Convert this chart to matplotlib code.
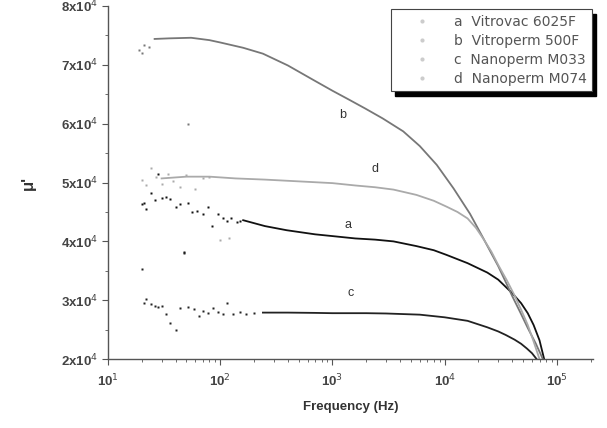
import matplotlib.pyplot as plt
from matplotlib.patches import Rectangle
from matplotlib.ticker import FixedLocator, NullFormatter

plt.rcParams['font.family'] = ['Liberation Sans', 'DejaVu Sans']

# smooth parts of the curves (frequency in Hz, mu')
f_a = [160, 250, 390, 700, 1000, 1600, 2400, 3500, 5600, 8000, 10400, 16000, 24000, 30000, 40000, 48000, 55000, 62000, 70000, 77000]
mu_a = [43600, 42600, 41900, 41200, 40900, 40500, 40300, 40000, 39200, 38500, 37700, 36300, 34700, 33500, 31200, 29500, 27800, 25800, 23200, 20000]

f_b = [26, 35, 55, 80, 100, 160, 240, 400, 680, 1000, 1400, 1950, 2800, 4270, 6000, 8500, 12000, 16800, 22000, 26000, 30000, 35000, 40000, 47000, 55000, 65000, 75000]
mu_b = [74400, 74500, 74600, 74200, 73800, 72900, 71900, 69900, 67400, 65600, 64100, 62600, 60900, 58700, 56200, 53000, 49000, 44700, 40600, 38000, 35800, 33100, 30700, 28000, 25300, 22600, 20000]

f_c = [240, 400, 700, 1000, 2000, 3000, 6000, 10000, 16000, 24000, 30000, 35000, 42000, 48000, 54000, 60000, 66000]
mu_c = [27900, 27900, 27850, 27800, 27800, 27750, 27550, 27100, 26500, 25400, 24700, 24100, 23300, 22600, 21800, 21000, 20000]

f_d = [30, 50, 80, 137, 250, 500, 1000, 1600, 2400, 3500, 5600, 8000, 10400, 13000, 16000, 19000, 22000, 26000, 30000, 36000, 42000, 48000, 55000, 62000, 70000]
mu_d = [50700, 51000, 51000, 50700, 50500, 50200, 49900, 49500, 49200, 48800, 47900, 46900, 45900, 45000, 43900, 42300, 40500, 38300, 36000, 33300, 30800, 28400, 25800, 23000, 20000]

# noisy low-frequency points
fa_n = [20, 21, 22, 24, 26, 28, 30, 33, 36, 40, 44, 48, 52, 56, 62, 70, 78, 85, 95, 105, 115, 125, 140, 150]
mua_n = [46400, 46600, 45500, 48200, 47000, 51500, 47300, 47500, 47200, 45900, 46400, 38200, 46500, 45000, 45200, 44600, 45900, 42700, 44600, 44000, 43500, 43900, 43300, 43500]

fb_n = [19, 20, 21, 23, 52]
mub_n = [72500, 72000, 73400, 73100, 60000]

fc_n = [20, 21, 22, 24, 26, 28, 30, 33, 36, 40, 44, 48, 52, 58, 64, 70, 78, 86, 95, 105, 115, 130, 150, 170, 200]
muc_n = [35300, 29500, 30200, 29400, 29000, 28900, 29100, 27600, 26200, 24900, 28700, 38000, 28900, 28500, 27400, 28200, 27800, 28700, 28000, 27600, 29600, 27600, 28000, 27700, 27800]

fd_n = [20, 22, 24, 27, 30, 34, 38, 44, 50, 60, 70, 80, 100, 120]
mud_n = [50400, 49500, 52400, 51000, 49800, 51500, 50200, 49300, 51300, 48900, 50800, 50900, 40200, 40500]

labels = ['a  Vitrovac 6025F', 'b  Vitroperm 500F', 'c  Nanoperm M033', 'd  Nanoperm M074']
colors = ['#111111', '#777777', '#222222', '#aaaaaa']

fig = plt.figure(figsize=(6.07, 4.28), dpi=100)
ax = fig.add_axes([0.178, 0.161, 0.799, 0.825])

series = [(f_a, mu_a, fa_n, mua_n), (f_b, mu_b, fb_n, mub_n),
          (f_c, mu_c, fc_n, muc_n), (f_d, mu_d, fd_n, mud_n)]
for (fs, ms, fn, mn), lab, col in zip(series, labels, colors):
    ax.plot(fs, ms, color=col, lw=1.3)
    ax.plot(fn, mn, ls='none', marker='s', ms=1.8, color=col, mec='none')
    ax.plot([], [], ls='none', marker='o', ms=3, color='#cccccc', mec='none', label=lab)

ax.text(1150, 61000, 'b', fontsize=9, color='#333333')
ax.text(2240, 51800, 'd', fontsize=9, color='#333333')
ax.text(1290, 42300, 'a', fontsize=9, color='#333333')
ax.text(1370, 30800, 'c', fontsize=9, color='#333333')

ax.set_xscale('log')
ax.set_xlim(10, 2.1e5)
ax.set_ylim(20000, 80000)

ax.spines['top'].set_visible(False)
ax.spines['right'].set_visible(False)
for s in ['left', 'bottom']:
    ax.spines[s].set_color('#555555')
    ax.spines[s].set_linewidth(1.0)

ax.set_xticks([1e1, 1e2, 1e3, 1e4, 1e5])
ax.set_xticklabels(['10$^1$', '10$^2$', '10$^3$', '10$^4$', '10$^5$'])
ax.set_yticks([20000, 30000, 40000, 50000, 60000, 70000, 80000])
ax.set_yticklabels(['%dx10$^4$' % k for k in range(2, 9)])
ax.yaxis.set_minor_locator(FixedLocator([25000, 35000, 45000, 55000, 65000, 75000]))
ax.yaxis.set_minor_formatter(NullFormatter())
ax.tick_params(axis='both', which='major', direction='out', length=4, color='#555555',
               labelsize=9.5, labelcolor='#444444')
ax.tick_params(axis='x', which='major', pad=6)
ax.tick_params(axis='both', which='minor', direction='out', length=2.5, color='#555555')
for t in ax.get_xticklabels() + ax.get_yticklabels():
    t.set_fontweight('bold')

ax.set_xlabel('Frequency (Hz)', fontsize=9.5, fontweight='bold', color='#333333', labelpad=8)
ax.set_ylabel("μ'", fontsize=12, fontweight='bold', color='#333333', labelpad=18)

leg = ax.legend(loc='upper right', bbox_to_anchor=(592 / 607, 1 - 9 / 428), bbox_transform=fig.transFigure,
                frameon=True, fancybox=False, framealpha=1, edgecolor='#444444',
                prop={'family': 'DejaVu Sans', 'size': 10}, handlelength=3.6, handletextpad=0.5,
                labelspacing=0.36, borderpad=0.4, borderaxespad=0)
leg.get_frame().set_linewidth(0.8)
leg.set_zorder(5)
for t in leg.get_texts():
    t.set_color('#555555')

# black drop shadow under the legend box
fig.canvas.draw()
bb = leg.get_window_extent().transformed(fig.transFigure.inverted())
ax.add_patch(Rectangle((bb.x0 + 4 / 607, bb.y0 - 5 / 428), bb.width, bb.height,
                       transform=fig.transFigure, color='black', zorder=4, clip_on=False))

fig.savefig('out.png', dpi=100)
